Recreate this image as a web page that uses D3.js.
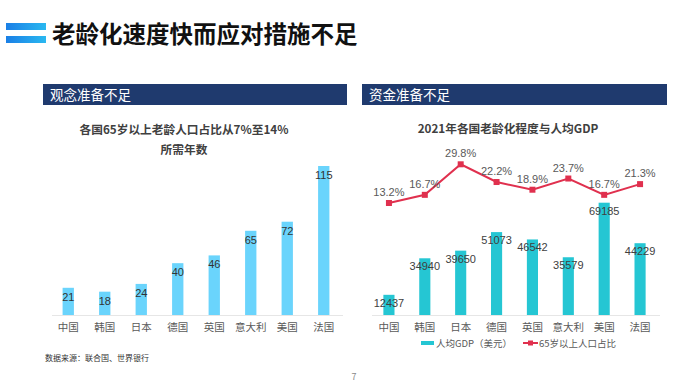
<!DOCTYPE html>
<html><head><meta charset="utf-8">
<script src="https://cdn.jsdelivr.net/npm/d3@7"></script>
<style>
html,body{margin:0;padding:0;background:#fff;}
svg{display:block;font-family:"Noto Sans CJK SC","Noto Sans",sans-serif;}
</style></head>
<body><svg id="c" width="700" height="382"></svg>
<script>
const categories = ["中国","韩国","日本","德国","英国","意大利","美国","法国"];
const yearsTo14 = [21,18,24,40,46,65,72,115];
const gdpPerCapita = [12437,34940,39650,51073,46542,35579,69185,44229];
const aged65Share = [13.2,16.7,29.8,22.2,18.9,23.7,16.7,21.3];

const svg = d3.select("#c");
const font = '"Noto Sans CJK SC","Noto Sans",sans-serif';

// Icon
const defs = svg.append("defs");
const g1 = defs.append("linearGradient").attr("id","ig").attr("x1","0").attr("x2","1");
g1.append("stop").attr("offset","0").attr("stop-color","#1a7fe6");
g1.append("stop").attr("offset","1").attr("stop-color","#2ab8f0");
svg.append("rect").attr("x",6).attr("y",23).attr("width",40).attr("height",7).attr("fill","url(#ig)");
svg.append("rect").attr("x",6).attr("y",36).attr("width",40).attr("height",7).attr("fill","url(#ig)");
svg.append("text").attr("x",52).attr("y",43).attr("font-size",23.5).attr("font-weight",700)
  .attr("fill","#111").text("老龄化速度快而应对措施不足");

// Section headers
const headers = [{x:43,w:304,t:"观念准备不足"},{x:362,w:305,t:"资金准备不足"}];
headers.forEach(h=>{
  svg.append("rect").attr("x",h.x).attr("y",84).attr("width",h.w).attr("height",21).attr("fill","#1f3a6e");
  svg.append("text").attr("x",h.x+7).attr("y",100).attr("font-size",13.5).attr("fill","#fff").text(h.t);
});

// Left chart
svg.append("text").attr("x",184).attr("y",134).attr("text-anchor","middle").attr("font-size",11.7)
  .attr("font-weight",700).attr("fill","#404040").text("各国65岁以上老龄人口占比从7%至14%");
svg.append("text").attr("x",184).attr("y",154).attr("text-anchor","middle").attr("font-size",11.7)
  .attr("font-weight",700).attr("fill","#404040").text("所需年数");

const base = 315;
const xL = d3.scaleBand().domain(categories).range([50,342]).paddingInner(0.69).paddingOuter(0.345);
const yL = d3.scaleLinear().domain([0,115]).range([base,166]);
svg.append("line").attr("x1",52).attr("x2",343).attr("y1",base+0.5).attr("y2",base+0.5).attr("stroke","#e6e6e6");
const gl = svg.append("g");
gl.selectAll("rect").data(yearsTo14).join("rect")
  .attr("x",(d,i)=>xL(categories[i])).attr("width",xL.bandwidth())
  .attr("y",d=>yL(d)).attr("height",d=>base-yL(d)).attr("fill","#6ad4fc");
gl.selectAll("text.v").data(yearsTo14).join("text").attr("class","v")
  .attr("x",(d,i)=>xL(categories[i])+xL.bandwidth()/2).attr("y",d=>yL(d)+13)
  .attr("text-anchor","middle").attr("font-size",11).attr("fill","#333")
  .attr("font-family","Liberation Sans, Arial, sans-serif").text(d=>d);
const axL = svg.append("g").attr("transform",`translate(0,${base})`)
  .call(d3.axisBottom(xL).tickSize(0).tickPadding(9));
axL.select(".domain").remove();
axL.selectAll("text").attr("font-size",10.5).attr("fill","#595959").attr("font-family",font);

// Right chart
svg.append("text").attr("x",508).attr("y",133).attr("text-anchor","middle").attr("font-size",11.7)
  .attr("font-weight",700).attr("fill","#404040").text("2021年各国老龄化程度与人均GDP");
const xR = d3.scaleBand().domain(categories).range([371,658]).paddingInner(0.69).paddingOuter(0.345);
const yR = d3.scaleLinear().domain([0,69185]).range([base,202.7]);
const yP = d3.scaleLinear().domain([13.2,29.8]).range([203,164.3]);
svg.append("line").attr("x1",372).attr("x2",660).attr("y1",base+0.5).attr("y2",base+0.5).attr("stroke","#e6e6e6");
const gr = svg.append("g");
gr.selectAll("rect").data(gdpPerCapita).join("rect")
  .attr("x",(d,i)=>xR(categories[i])).attr("width",xR.bandwidth())
  .attr("y",d=>yR(d)).attr("height",d=>base-yR(d)).attr("fill","#25c6d3");
gr.selectAll("text.v").data(gdpPerCapita).join("text").attr("class","v")
  .attr("x",(d,i)=>xR(categories[i])+xR.bandwidth()/2).attr("y",d=>yR(d)+12)
  .attr("text-anchor","middle").attr("font-size",11).attr("fill","#404040")
  .attr("font-family","Liberation Sans, Arial, sans-serif").text(d=>d);
const cx = i=>xR(categories[i])+xR.bandwidth()/2;
const line = d3.line().x((d,i)=>cx(i)).y(d=>yP(d));
gr.append("path").datum(aged65Share).attr("d",line).attr("fill","none").attr("stroke","#e0304e").attr("stroke-width",2);
gr.selectAll("rect.m").data(aged65Share).join("rect").attr("class","m")
  .attr("x",(d,i)=>cx(i)-3).attr("y",d=>yP(d)-3).attr("width",6).attr("height",6).attr("fill","#e0304e");
gr.selectAll("text.p").data(aged65Share).join("text").attr("class","p")
  .attr("x",(d,i)=>cx(i)).attr("y",d=>yP(d)-7)
  .attr("text-anchor","middle").attr("font-size",11).attr("fill","#595959")
  .attr("font-family","Liberation Sans, Arial, sans-serif").text(d=>d.toFixed(1)+"%");
const axR = svg.append("g").attr("transform",`translate(0,${base})`)
  .call(d3.axisBottom(xR).tickSize(0).tickPadding(9));
axR.select(".domain").remove();
axR.selectAll("text").attr("font-size",10.5).attr("fill","#595959").attr("font-family",font);

// Legend
svg.append("rect").attr("x",421).attr("y",341).attr("width",13).attr("height",4).attr("fill","#25c6d3");
svg.append("text").attr("x",436).attr("y",347).attr("font-size",9.5).attr("fill","#595959").text("人均GDP（美元）");
svg.append("line").attr("x1",523).attr("x2",538).attr("y1",343).attr("y2",343).attr("stroke","#e0304e").attr("stroke-width",2);
svg.append("rect").attr("x",528).attr("y",340.5).attr("width",5).attr("height",5).attr("fill","#e0304e");
svg.append("text").attr("x",539).attr("y",347).attr("font-size",9.5).attr("fill","#595959").text("65岁以上人口占比");

// Source and page
svg.append("text").attr("x",45).attr("y",361).attr("font-size",8).attr("fill","#333").text("数据来源：联合国、世界银行");
svg.append("text").attr("x",354).attr("y",380).attr("text-anchor","middle").attr("font-size",9).attr("fill","#888").text("7");
</script></body></html>
